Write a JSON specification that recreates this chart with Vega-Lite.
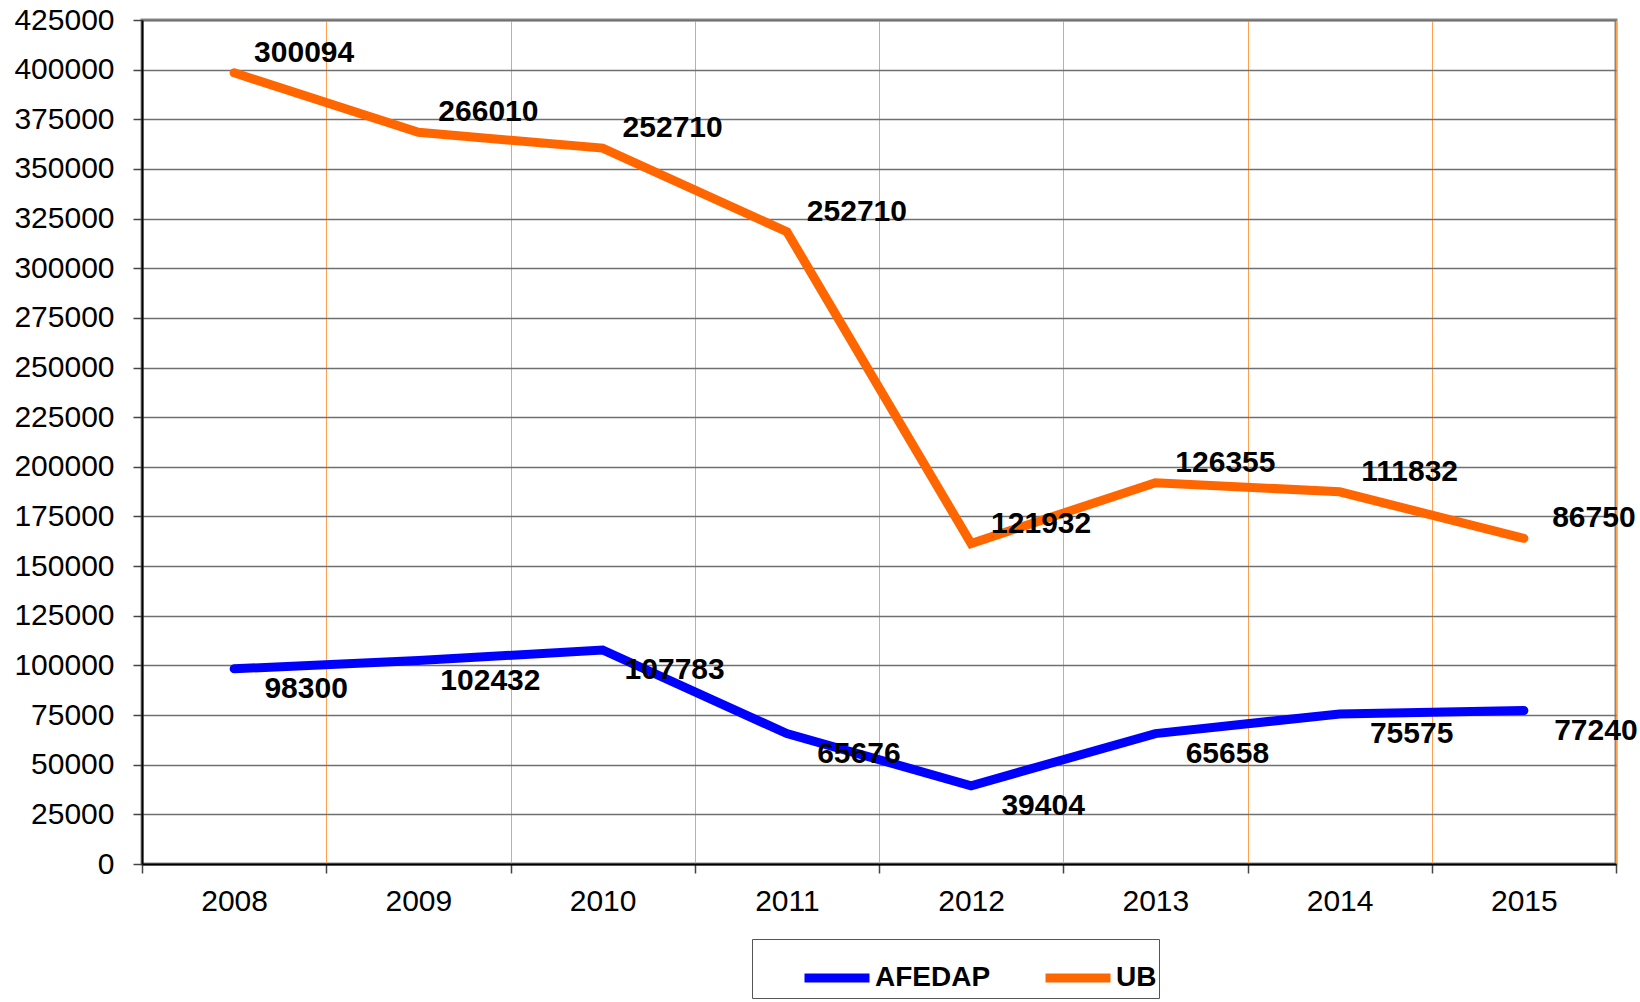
{
  "$schema": "https://vega.github.io/schema/vega-lite/v6.json",
  "width": 1474,
  "height": 844,
  "autosize": {"type": "none"},
  "padding": {"left": 142, "top": 20, "right": 24, "bottom": 138},
  "background": "white",
  "config": {
    "font": "Liberation Sans",
    "view": {"stroke": "#888888", "strokeWidth": 3}
  },
  "data": {
    "values": [
      {"year": "2008", "series": "AFEDAP", "value": 98300},
      {"year": "2009", "series": "AFEDAP", "value": 102432},
      {"year": "2010", "series": "AFEDAP", "value": 107783},
      {"year": "2011", "series": "AFEDAP", "value": 65676},
      {"year": "2012", "series": "AFEDAP", "value": 39404},
      {"year": "2013", "series": "AFEDAP", "value": 65658},
      {"year": "2014", "series": "AFEDAP", "value": 75575},
      {"year": "2015", "series": "AFEDAP", "value": 77240},
      {"year": "2008", "series": "UB", "value": 300094},
      {"year": "2009", "series": "UB", "value": 266010},
      {"year": "2010", "series": "UB", "value": 252710},
      {"year": "2011", "series": "UB", "value": 252710},
      {"year": "2012", "series": "UB", "value": 121932},
      {"year": "2013", "series": "UB", "value": 126355},
      {"year": "2014", "series": "UB", "value": 111832},
      {"year": "2015", "series": "UB", "value": 86750}
    ]
  },
  "transform": [
    {"stack": "value", "groupby": ["year"], "sort": [{"field": "series", "order": "ascending"}], "as": ["y0", "y1"]}
  ],
  "encoding": {
    "x": {
      "field": "year",
      "type": "ordinal",
      "bandPosition": 0.5,
      "scale": {"type": "band", "paddingInner": 0, "paddingOuter": 0},
      "axis": {
        "title": null,
        "labelAngle": 0,
        "labelFontSize": 30,
        "labelColor": "black",
        "labelPadding": 13,
        "tickBand": "extent",
        "ticks": true,
        "tickSize": 9,
        "tickColor": "#444444",
        "tickWidth": 1.5,
        "grid": true,
        "gridColor": "#FFA050",
        "gridWidth": 1,
        "domainColor": "black",
        "domainWidth": 2
      }
    },
    "y": {
      "field": "y1",
      "type": "quantitative",
      "scale": {"domain": [0, 425000], "nice": false, "zero": true},
      "axis": {
        "title": null,
        "values": [0, 25000, 50000, 75000, 100000, 125000, 150000, 175000, 200000, 225000, 250000, 275000, 300000, 325000, 350000, 375000, 400000, 425000],
        "format": "d",
        "labelFontSize": 30,
        "labelColor": "black",
        "labelPadding": 19,
        "tickSize": 9,
        "tickColor": "#444444",
        "tickWidth": 1.5,
        "grid": true,
        "gridColor": "#707070",
        "gridWidth": 1.5,
        "domainColor": "black",
        "domainWidth": 2
      }
    }
  },
  "layer": [
    {
      "mark": {"type": "line", "strokeWidth": 9, "strokeCap": "round"},
      "encoding": {
        "color": {
          "field": "series",
          "type": "nominal",
          "scale": {"domain": ["AFEDAP", "UB"], "range": ["#0000FF", "#FF6600"]},
          "legend": {
            "title": null,
            "orient": "none",
            "legendX": 610,
            "legendY": 919,
            "direction": "horizontal",
            "symbolType": "stroke",
            "symbolSize": 4225,
            "symbolStrokeWidth": 9,
            "symbolOffset": 46,
            "labelFontSize": 28,
            "labelFontWeight": "bold",
            "labelColor": "black",
            "labelOffset": 1,
            "columnPadding": 4,
            "padding": 2,
            "strokeColor": "#555555",
            "fillColor": "white"
          }
        }
      }
    },
    {
      "transform": [{"filter": "datum.series === 'UB'"}],
      "mark": {"type": "text", "dx": 70, "dy": -20, "fontSize": 30, "fontWeight": "bold", "align": "center", "baseline": "middle", "color": "black"},
      "encoding": {
        "text": {"field": "value", "type": "quantitative", "format": "d"}
      }
    },
    {
      "transform": [{"filter": "datum.series === 'AFEDAP'"}],
      "mark": {"type": "text", "dx": 72, "dy": 20, "fontSize": 30, "fontWeight": "bold", "align": "center", "baseline": "middle", "color": "black"},
      "encoding": {
        "text": {"field": "value", "type": "quantitative", "format": "d"}
      }
    }
  ]
}
